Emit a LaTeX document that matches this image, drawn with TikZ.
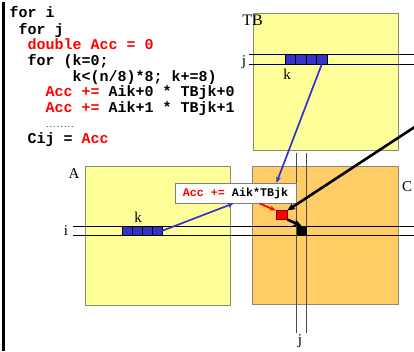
\documentclass[tikz,border=0pt]{standalone}
\usepackage{fontspec}
\setmainfont{Liberation Serif}
\setmonofont{Liberation Mono}
\usepackage{xcolor}
\usetikzlibrary{arrows.meta,positioning,calc,shadows}

\definecolor{matyellow}{HTML}{FFFF99}
\definecolor{matorange}{HTML}{FFCC66}
\definecolor{matedge}{HTML}{8A8A70}
\definecolor{stripblue}{HTML}{3333CC}

\begin{document}
\begin{tikzpicture}[x=1pt, y=-1pt,
    code/.style={anchor=base west, inner sep=0pt, font=\fontsize{15}{15}\selectfont\ttfamily\bfseries},
    lbl/.style={anchor=base, inner sep=0pt, font=\fontsize{15}{15}\selectfont},
    mat/.style={rectangle, draw=matedge, line width=0.9pt, inner sep=0pt},
    blk/.style={rectangle, draw=black, fill=stripblue, line width=0.5pt, inner sep=0pt, minimum height=10pt},
    rowline/.style={black, line width=0.8pt},
    colline/.style={black!70, line width=0.7pt},
    bluearrow/.style={-{Stealth[length=6pt,width=5pt]}, stripblue, line width=1.7pt},
    redarrow/.style={-{Stealth[length=6pt,width=5pt]}, red, line width=1.8pt},
    blackarrow/.style={-{Stealth[length=8pt,width=7pt]}, black, line width=2.6pt}
]
\useasboundingbox (0,0) rectangle (414,351);

% frame of the code listing
\draw[line width=2.7pt] (3.3,2) -- (3.3,351);

% code listing
\node[code] (c1) at (9.3,17.7) {for i};
\node[code] (c2) at (18.3,34) {for j};
\node[code] (c3) at (27.3,49.5) {\textcolor{red}{double Acc = 0}};
\node[code] (c4) at (27.3,65) {for (k=0;};
\node[code] (c5) at (72.3,81) {k<(n/8)*8; k+=8)};
\node[code] (c6) at (45.3,96.5) {\textcolor{red}{Acc +=} Aik+0 * TBjk+0};
\node[code] (c7) at (45.3,112) {\textcolor{red}{Acc +=} Aik+1 * TBjk+1};
\node[code, font=\fontsize{6}{6}\selectfont\ttfamily\bfseries] (c8) at (45.3,127.5) {........};
\node[code] (c9) at (27.3,143) {Cij = \textcolor{red}{Acc}};

% matrices
\node[mat, fill=matyellow, minimum width=145pt, minimum height=137pt] (TB) at (325.5,81.8) {};
\node[mat, fill=matyellow, minimum width=145pt, minimum height=139pt] (A) at (157.5,235.5) {};
\node[mat, fill=matorange, minimum width=146pt, minimum height=138pt] (C) at (325,235) {};

% row j of TB, row i of A, column j of C
\draw[rowline] (249,54) -- (414,54);
\draw[rowline] (249,64) -- (414,64);
\draw[rowline] (73,226) -- (414,226);
\draw[rowline] (73,235.5) -- (414,235.5);
\draw[colline] (296.5,153) -- (296.5,333);
\draw[colline] (306.5,153) -- (306.5,333);

% strips of k
\foreach \n in {1,...,4}
  \node[blk, minimum width=10.5pt] (tb\n) at ({279.75+10.5*\n},59) {};
\foreach \n in {1,...,4}
  \node[blk, minimum width=10pt, minimum height=9.5pt] (a\n) at ({117+10*\n},230.75) {};

% partial sum and result element
\node[rectangle, draw=red!55!black, fill=red, line width=0.6pt, inner sep=0pt,
      minimum width=11pt, minimum height=8.5pt] (part) at (281.5,215) {};
\node[rectangle, fill=black, inner sep=0pt, minimum width=10pt, minimum height=9.5pt] (cij) at (301.5,230.75) {};

% labels
\node[lbl, font=\fontsize{16}{16}\selectfont] (tbname) at (252.5,25) {TB};
\node[lbl] (tbj) at (244,65) {j};
\node[lbl] (tbk) at (287,79) {k};
\node[lbl] (aname) at (74,178) {A};
\node[lbl] (ak) at (138,222) {k};
\node[lbl] (ai) at (66,235) {i};
\node[lbl] (cname) at (407,191) {C};
\node[lbl] (cj) at (300,344) {j};

% accumulate step
\node[rectangle, draw=gray, fill=white, line width=0.8pt, inner sep=0pt,
      minimum width=121pt, minimum height=20pt,
      drop shadow={shadow xshift=1pt, shadow yshift=-1pt, fill=gray!70, opacity=0.6},
      font=\fontsize{11.7}{11.7}\selectfont\ttfamily\bfseries] (acc) at (235.5,193)
      {\textcolor{red}{Acc +=} Aik*TBjk};

% arrows
\coordinate (feed) at (420,123.5);
\draw[bluearrow] (tb4.south) -- ([xshift=41pt]acc.north);
\draw[bluearrow] (a4.east) -- ([xshift=-2pt]acc.south);
\draw[redarrow] ([xshift=24pt]acc.south) -- (part.north west);
\draw[blackarrow] (part.south east) -- (cij.north);
\draw[blackarrow] (feed) -- (part.north east);

\end{tikzpicture}
\end{document}
